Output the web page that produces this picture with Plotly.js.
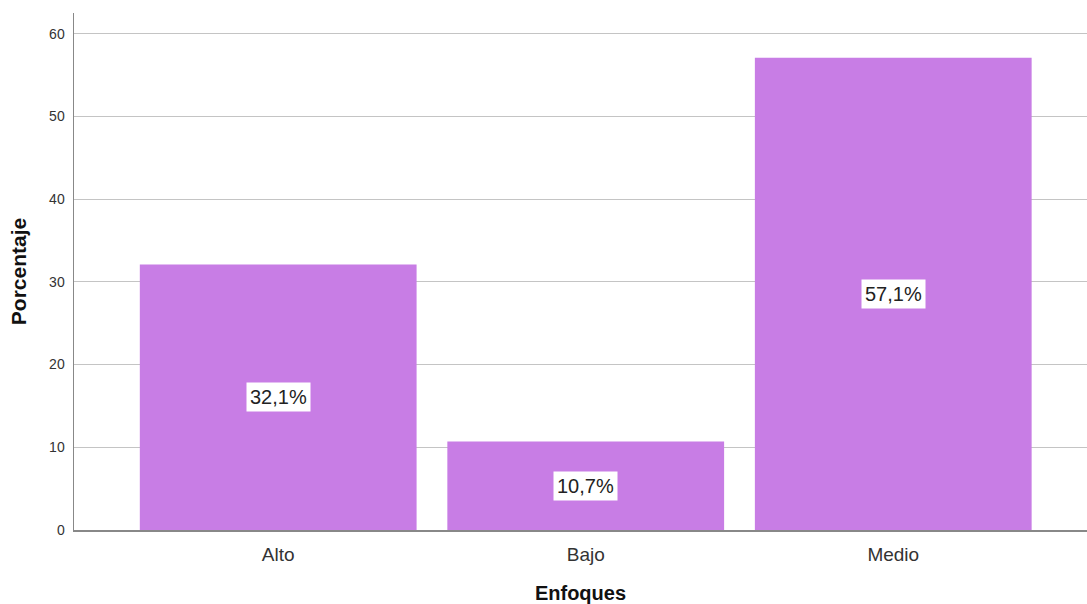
<!DOCTYPE html>
<html>
<head>
<meta charset="utf-8">
<script src="https://cdn.plot.ly/plotly-3.0.1.min.js"></script>
<style>html,body{margin:0;padding:0;background:#fff;}#chart{width:1087px;height:604px;}</style>
</head>
<body>
<div id="chart"></div>
<script>
const categories = ["Alto", "Bajo", "Medio"];
const percentages = [32.1, 10.7, 57.1];
const labels = ["32,1%", "10,7%", "57,1%"];
const yTicks = [0, 10, 20, 30, 40, 50, 60];

const FONT = "Liberation Sans, Arial, sans-serif";

const trace = {
  type: "bar",
  x: categories,
  y: percentages,
  width: 0.9,
  marker: {color: "#C87DE5", line: {width: 0}},
  hoverinfo: "none"
};

const annotations = categories.map((c, i) => ({
  x: c, y: percentages[i] / 2, xref: "x", yref: "y",
  text: labels[i], showarrow: false,
  font: {family: FONT, size: 20, color: "#222"},
  bgcolor: "#ffffff", borderpad: 3
}));

const layout = {
  width: 1087, height: 604,
  margin: {l: 74, r: 0, t: 13, b: 74},
  paper_bgcolor: "#ffffff", plot_bgcolor: "#ffffff",
  showlegend: false,
  xaxis: {
    type: "category",
    range: [-0.664, 2.63],
    showline: true, linecolor: "#888888", linewidth: 1.5,
    showgrid: false, zeroline: false, ticks: "",
    ticklabelstandoff: 7,
    tickfont: {family: FONT, size: 19, color: "#333333"},
    title: {text: "Enfoques", standoff: 21, font: {family: FONT, size: 20, color: "#111111", weight: "bold"}}
  },
  yaxis: {
    range: [0, 62.5],
    tickvals: yTicks,
    showline: true, linecolor: "#888888", linewidth: 1.5,
    showgrid: true, gridcolor: "#c4c4c4", gridwidth: 1,
    zeroline: false, ticks: "",
    ticklabelstandoff: 5,
    tickfont: {family: FONT, size: 14, color: "#333333"},
    title: {text: "Porcentaje", standoff: 17, font: {family: FONT, size: 21, color: "#111111", weight: "bold"}}
  },
  annotations: annotations
};

Plotly.newPlot("chart", [trace], layout, {displayModeBar: false, staticPlot: true});
</script>
</body>
</html>
